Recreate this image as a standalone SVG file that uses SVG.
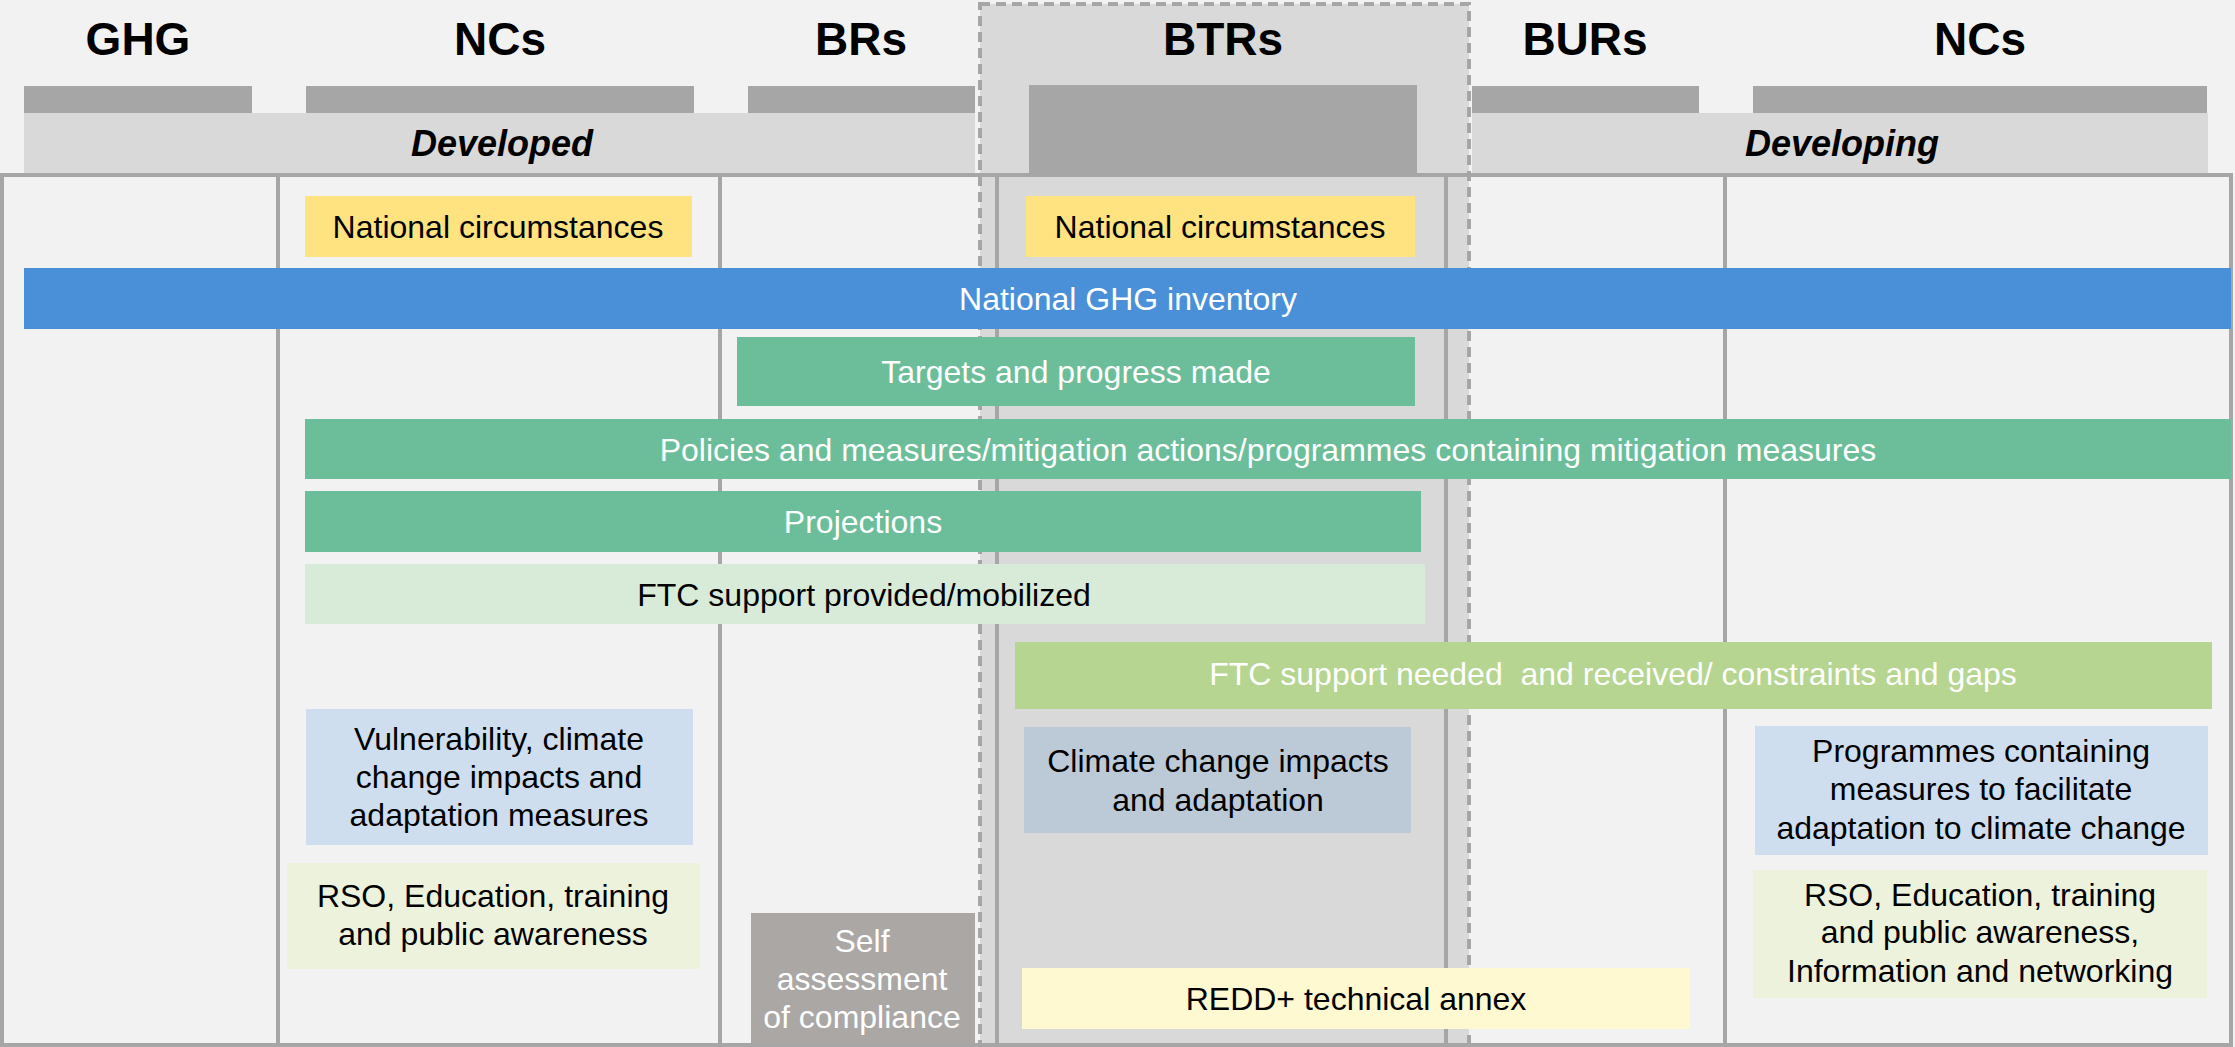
<svg xmlns="http://www.w3.org/2000/svg" width="2235" height="1047" viewBox="0 0 2235 1047">
<style>
  text { font-family: "Liberation Sans", Arial, sans-serif; text-anchor: middle; }
  .hd { font-size: 46px; font-weight: bold; fill: #000; }
  .band { font-size: 36px; font-weight: bold; font-style: italic; fill: #000; }
  .t { font-size: 32px; fill: #000; }
  .w { font-size: 32px; fill: #fff; }
  .bar { fill: #a6a6a6; }
  .bnd { fill: #d9d9d9; }
  .grid { stroke: #a6a6a6; stroke-width: 4; fill: none; }
</style>
<rect x="0" y="0" width="2235" height="1047" fill="#f2f2f2"/>

<!-- BTR highlighted column -->
<g id="btr-column">
  <rect x="980" y="4" width="489" height="1050" fill="#d9d9d9"/>
</g>

<!-- Headers -->
<g id="headers">
  <text class="hd" x="138" y="55">GHG</text>
  <text class="hd" x="500" y="55">NCs</text>
  <text class="hd" x="861" y="55">BRs</text>
  <text class="hd" x="1223" y="55">BTRs</text>
  <text class="hd" x="1585" y="55">BURs</text>
  <text class="hd" x="1980" y="55">NCs</text>
</g>
<g id="header-bars">
  <rect class="bar" x="24" y="86" width="228" height="27"/>
  <rect class="bar" x="306" y="86" width="388" height="27"/>
  <rect class="bar" x="748" y="86" width="227" height="27"/>
  <rect class="bar" x="1029" y="85" width="388" height="88"/>
  <rect class="bar" x="1472" y="86" width="227" height="27"/>
  <rect class="bar" x="1753" y="86" width="454" height="27"/>
</g>
<g id="developed">
  <rect class="bnd" x="24" y="113" width="951" height="60"/>
  <text class="band" x="502" y="156">Developed</text>
</g>
<g id="developing">
  <rect class="bnd" x="1472" y="113" width="736" height="60"/>
  <text class="band" x="1842" y="156">Developing</text>
</g>

<!-- Grid -->
<g id="grid" class="grid">
  <line x1="0" y1="175" x2="2233" y2="175"/>
  <line x1="0" y1="1045" x2="2233" y2="1045"/>
  <line x1="2" y1="173" x2="2" y2="1047"/>
  <line x1="278" y1="175" x2="278" y2="1047"/>
  <line x1="720" y1="175" x2="720" y2="1047"/>
  <line x1="997" y1="175" x2="997" y2="1047"/>
  <line x1="1446" y1="175" x2="1446" y2="1047"/>
  <line x1="1725" y1="175" x2="1725" y2="1047"/>
  <line x1="2231" y1="173" x2="2231" y2="1047"/>
</g>
<g id="btr-border">
  <rect x="980" y="4" width="489" height="1050" fill="none" stroke="#a6a6a6" stroke-width="4" stroke-dasharray="10,6"/>
</g>

<!-- Nodes -->
<g id="nc-national-circumstances">
  <rect x="305" y="196" width="387" height="61" fill="#ffe380"/>
  <text class="t" x="498" y="238">National circumstances</text>
</g>
<g id="btr-national-circumstances">
  <rect x="1026" y="196" width="389" height="61" fill="#ffe380"/>
  <text class="t" x="1220" y="238">National circumstances</text>
</g>
<g id="ghg-inventory">
  <rect x="24" y="268" width="2207" height="61" fill="#4a90d9"/>
  <text class="w" x="1128" y="310">National GHG inventory</text>
</g>
<g id="targets">
  <rect x="737" y="337" width="678" height="69" fill="#6bbe99"/>
  <text class="w" x="1076" y="383">Targets and progress made</text>
</g>
<g id="policies">
  <rect x="305" y="419" width="1926" height="60" fill="#6bbe99"/>
  <text class="w" x="1268" y="461">Policies and measures/mitigation actions/programmes containing mitigation measures</text>
</g>
<g id="projections">
  <rect x="305" y="491" width="1116" height="61" fill="#6bbe99"/>
  <text class="w" x="863" y="533">Projections</text>
</g>
<g id="ftc-provided">
  <rect x="305" y="564" width="1120" height="60" fill="#d8ead8"/>
  <text class="t" x="864" y="606">FTC support provided/mobilized</text>
</g>
<g id="ftc-needed">
  <rect x="1015" y="642" width="1197" height="67" fill="#b6d591"/>
  <text class="w" x="1613" y="685" xml:space="preserve">FTC support needed  and received/ constraints and gaps</text>
</g>
<g id="vulnerability">
  <rect x="306" y="709" width="387" height="136" fill="#cfdeee"/>
  <text class="t" x="499" y="750">Vulnerability, climate</text>
  <text class="t" x="499" y="788">change impacts and</text>
  <text class="t" x="499" y="826">adaptation measures</text>
</g>
<g id="rso-developed">
  <rect x="287" y="863" width="413" height="106" fill="#edf2dc"/>
  <text class="t" x="493" y="907">RSO, Education, training</text>
  <text class="t" x="493" y="945">and public awareness</text>
</g>
<g id="self-assessment">
  <rect x="751" y="913" width="224" height="130" fill="#aba7a5"/>
  <text class="w" x="862" y="952">Self</text>
  <text class="w" x="862" y="990">assessment</text>
  <text class="w" x="862" y="1028">of compliance</text>
</g>
<g id="climate-impacts">
  <rect x="1024" y="727" width="387" height="106" fill="#bccad8"/>
  <text class="t" x="1218" y="772">Climate change impacts</text>
  <text class="t" x="1218" y="811">and adaptation</text>
</g>
<g id="programmes-adaptation">
  <rect x="1755" y="726" width="453" height="129" fill="#cfdeee"/>
  <text class="t" x="1981" y="762">Programmes containing</text>
  <text class="t" x="1981" y="800">measures to facilitate</text>
  <text class="t" x="1981" y="839">adaptation to climate change</text>
</g>
<g id="rso-developing">
  <rect x="1753" y="870" width="454" height="128" fill="#edf2dc"/>
  <text class="t" x="1980" y="906">RSO, Education, training</text>
  <text class="t" x="1980" y="943">and public awareness,</text>
  <text class="t" x="1980" y="982">Information and networking</text>
</g>
<g id="redd">
  <rect x="1022" y="968" width="668" height="61" fill="#fff9d2"/>
  <text class="t" x="1356" y="1010">REDD+ technical annex</text>
</g>

<!-- Connectors (none in this diagram) -->
<g id="connectors"/>
</svg>
